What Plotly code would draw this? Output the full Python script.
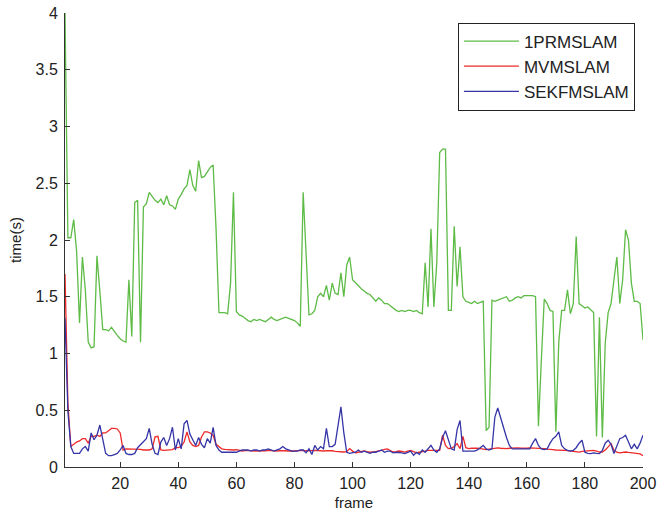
import plotly.graph_objects as go

frames = list(range(1, 201))

prm_slam = [
    4.00, 2.02, 2.02, 2.18, 1.90, 1.27, 1.85, 1.56, 1.10, 1.05,
    1.06, 1.86, 1.55, 1.21, 1.21, 1.20, 1.23, 1.19, 1.16, 1.13,
    1.11, 1.10, 1.65, 1.15, 2.33, 2.35, 1.10, 2.29, 2.32, 2.42,
    2.38, 2.35, 2.33, 2.36, 2.31, 2.39, 2.31, 2.30, 2.27, 2.36,
    2.40, 2.45, 2.48, 2.62, 2.48, 2.43, 2.70, 2.55, 2.56, 2.60,
    2.64, 2.66, 2.10, 1.36, 1.36, 1.36, 1.35, 1.62, 2.42, 1.37,
    1.34, 1.33, 1.31, 1.29, 1.28, 1.30, 1.29, 1.30, 1.29, 1.28,
    1.30, 1.32, 1.30, 1.29, 1.30, 1.31, 1.32, 1.31, 1.30, 1.29,
    1.27, 1.24, 2.42, 1.86, 1.34, 1.35, 1.38, 1.50, 1.53, 1.50,
    1.60, 1.47, 1.62, 1.53, 1.52, 1.71, 1.50, 1.78, 1.85, 1.65,
    1.62, 1.59, 1.57, 1.55, 1.53, 1.52, 1.49, 1.46, 1.49, 1.47,
    1.44, 1.44, 1.42, 1.40, 1.38, 1.37, 1.38, 1.37, 1.38, 1.38,
    1.37, 1.38, 1.36, 1.35, 1.80, 1.41, 2.10, 1.41, 1.80, 2.77,
    2.80, 2.80, 1.38, 1.38, 2.12, 1.59, 1.94, 1.50, 1.46, 1.45,
    1.44, 1.46, 1.44, 1.45, 1.46, 0.32, 0.35, 1.47, 1.46, 1.47,
    1.48, 1.49, 1.50, 1.46, 1.47, 1.49, 1.50, 1.49, 1.51, 1.51,
    1.51, 1.51, 1.50, 0.36, 0.94, 1.48, 1.44, 1.38, 1.37, 0.31,
    1.10, 1.38, 1.38, 1.56, 1.35, 1.44, 2.03, 1.44, 1.42, 1.40,
    1.41, 1.38, 1.36, 0.27, 1.32, 0.26, 1.09, 1.36, 1.44, 1.65,
    1.85, 1.44, 1.65, 2.09, 2.00, 1.62, 1.46, 1.46, 1.44, 1.12,
]

mv_slam = [
    1.70, 0.56, 0.18, 0.20, 0.22, 0.23, 0.25, 0.25, 0.21, 0.27,
    0.27, 0.28, 0.27, 0.30, 0.30, 0.32, 0.34, 0.34, 0.335, 0.30,
    0.15, 0.16, 0.16, 0.155, 0.155, 0.16, 0.155, 0.15, 0.15, 0.15,
    0.16, 0.265, 0.27, 0.15, 0.147, 0.147, 0.153, 0.153, 0.17, 0.17,
    0.18, 0.22, 0.31, 0.22, 0.19, 0.18, 0.19, 0.265, 0.31, 0.31,
    0.30, 0.28, 0.20, 0.177, 0.16, 0.155, 0.153, 0.147, 0.15, 0.153,
    0.15, 0.141, 0.145, 0.147, 0.145, 0.141, 0.14, 0.142, 0.141, 0.143,
    0.147, 0.145, 0.141, 0.141, 0.145, 0.147, 0.143, 0.141, 0.14, 0.141,
    0.145, 0.147, 0.147, 0.143, 0.141, 0.145, 0.147, 0.143, 0.141, 0.141,
    0.145, 0.147, 0.143, 0.138, 0.135, 0.132, 0.132, 0.135, 0.162, 0.14,
    0.124, 0.13, 0.135, 0.141, 0.135, 0.13, 0.132, 0.135, 0.14, 0.147,
    0.155, 0.16, 0.145, 0.132, 0.135, 0.141, 0.138, 0.132, 0.14, 0.147,
    0.135, 0.124, 0.13, 0.132, 0.14, 0.147, 0.147, 0.147, 0.147, 0.147,
    0.28, 0.19, 0.162, 0.165, 0.18, 0.206, 0.162, 0.27, 0.17, 0.162,
    0.165, 0.168, 0.165, 0.162, 0.16, 0.153, 0.158, 0.162, 0.165, 0.168,
    0.165, 0.162, 0.162, 0.165, 0.168, 0.168, 0.168, 0.165, 0.162, 0.165,
    0.168, 0.168, 0.165, 0.162, 0.162, 0.162, 0.158, 0.153, 0.153, 0.15,
    0.147, 0.147, 0.147, 0.145, 0.141, 0.141, 0.138, 0.132, 0.138, 0.141,
    0.141, 0.145, 0.147, 0.14, 0.132, 0.132, 0.15, 0.177, 0.206, 0.147,
    0.13, 0.124, 0.128, 0.132, 0.128, 0.124, 0.12, 0.118, 0.115, 0.10,
]

sekfm_slam = [
    1.31, 0.49, 0.18, 0.12, 0.12, 0.12, 0.16, 0.18, 0.14, 0.30,
    0.24, 0.28, 0.37, 0.25, 0.12, 0.10, 0.10, 0.11, 0.12, 0.15,
    0.19, 0.12, 0.11, 0.11, 0.12, 0.17, 0.20, 0.22, 0.25, 0.34,
    0.20, 0.12, 0.11, 0.22, 0.26, 0.19, 0.25, 0.35, 0.15, 0.25,
    0.16, 0.38, 0.41, 0.29, 0.24, 0.19, 0.26, 0.20, 0.17, 0.25,
    0.21, 0.35, 0.19, 0.15, 0.13, 0.13, 0.125, 0.125, 0.13, 0.13,
    0.14, 0.15, 0.15, 0.15, 0.14, 0.15, 0.15, 0.14, 0.15, 0.15,
    0.16, 0.15, 0.14, 0.15, 0.16, 0.18, 0.16, 0.15, 0.14, 0.14,
    0.14, 0.15, 0.15, 0.125, 0.16, 0.11, 0.19, 0.15, 0.18, 0.16,
    0.34, 0.18, 0.18, 0.20, 0.35, 0.53, 0.30, 0.13, 0.12, 0.125,
    0.13, 0.15, 0.13, 0.14, 0.13, 0.12, 0.13, 0.13, 0.14, 0.15,
    0.13, 0.14, 0.14, 0.124, 0.13, 0.13, 0.124, 0.118, 0.13, 0.14,
    0.103, 0.13, 0.112, 0.15, 0.13, 0.16, 0.19, 0.15, 0.13, 0.16,
    0.26, 0.32, 0.24, 0.16, 0.15, 0.33, 0.41, 0.14, 0.14, 0.14,
    0.14, 0.14, 0.15, 0.17, 0.19, 0.16, 0.15, 0.16, 0.44, 0.52,
    0.43, 0.35, 0.26, 0.19, 0.16, 0.16, 0.16, 0.16, 0.165, 0.16,
    0.16, 0.21, 0.25, 0.19, 0.16, 0.153, 0.16, 0.21, 0.25, 0.27,
    0.31, 0.19, 0.16, 0.147, 0.14, 0.147, 0.17, 0.21, 0.236, 0.13,
    0.12, 0.118, 0.124, 0.12, 0.118, 0.147, 0.21, 0.236, 0.20, 0.118,
    0.19, 0.25, 0.26, 0.28, 0.22, 0.16, 0.20, 0.16, 0.21, 0.28,
]

series_names = ["1PRMSLAM", "MVMSLAM", "SEKFMSLAM"]
series_values = [prm_slam, mv_slam, sekfm_slam]
series_colors = ["#5dbb46", "#ee2a2a", "#3535a8"]

x_tick_vals = list(range(20, 201, 20))
y_tick_vals = [0, 0.5, 1, 1.5, 2, 2.5, 3, 3.5, 4]

fig = go.Figure()
for i, (name, vals, col) in enumerate(zip(series_names, series_values, series_colors)):
    fig.add_trace(go.Scatter(
        x=frames, y=vals, mode="lines", name=name,
        line=dict(color=col, width=1.3),
        legendgroup=f"g{i}",
    ))

axis_color = "#333333"
font_family = "Liberation Sans, Arial, sans-serif"

fig.update_layout(
    width=659, height=519,
    margin=dict(l=65, r=16, t=13, b=52, autoexpand=False),
    paper_bgcolor="white", plot_bgcolor="white",
    font=dict(family=font_family, size=16, color="#222222"),
    showlegend=True,
    legend=dict(
        x=0.986, y=0.979, xanchor="right", yanchor="top",
        bordercolor="#222222", borderwidth=1, bgcolor="white",
        font=dict(size=17, color="#222222"),
        traceorder="grouped", tracegroupgap=0,
        itemwidth=55,
    ),
    xaxis=dict(
        range=[1, 200], tickvals=x_tick_vals,
        showline=True, linecolor=axis_color, linewidth=1,
        ticks="inside", ticklen=5, tickcolor=axis_color,
        ticklabelstandoff=2,
        showgrid=False, zeroline=False,
        title=dict(text="frame", standoff=6, font=dict(size=15)),
    ),
    yaxis=dict(
        range=[0, 4], tickvals=y_tick_vals,
        showline=True, linecolor=axis_color, linewidth=1,
        ticks="inside", ticklen=5, tickcolor=axis_color,
        ticklabelstandoff=3,
        showgrid=False, zeroline=False,
        title=dict(text="time(s)", standoff=10, font=dict(size=15)),
    ),
)

fig.write_html(
    "out.html",
    config={"displayModeBar": False},
    post_script="document.body.style.margin='0';",
)
